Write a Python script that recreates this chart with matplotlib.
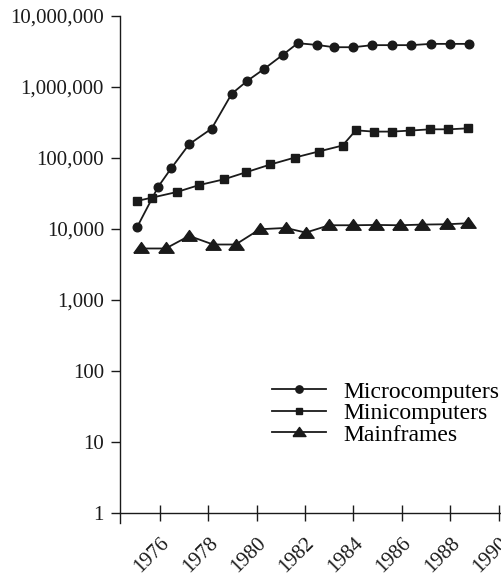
import numpy as np
import matplotlib
matplotlib.use("Agg")
from matplotlib import pyplot as plt
from matplotlib.ticker import FuncFormatter, NullLocator, FixedLocator

# values (years are approximate positions along the axis)
micro_years = [1975.05, 1975.93, 1976.47, 1977.21, 1978.14, 1978.97, 1979.62, 1980.3,
               1981.08, 1981.7, 1982.48, 1983.2, 1984.0, 1984.78, 1985.6, 1986.39,
               1987.2, 1987.99, 1988.79]
micro_units = [10500, 39300, 71600, 155500, 258000, 798000, 1216000, 1772000,
               2812000, 4100000, 3880000, 3600000, 3600000, 3850000, 3850000, 3850000,
               4010000, 4010000, 4010000]

mini_years = [1975.04, 1975.66, 1976.69, 1977.62, 1978.64, 1979.58, 1980.57, 1981.58,
              1982.56, 1983.55, 1984.1, 1984.84, 1985.59, 1986.36, 1987.16, 1987.93,
              1988.73]
mini_units = [24700, 27500, 33000, 41400, 49800, 63000, 80700, 101000,
              122800, 149000, 244000, 234000, 234000, 242000, 252000, 252000,
              260000]

main_years = [1975.2, 1976.24, 1977.21, 1978.2, 1979.13, 1980.13, 1981.2, 1982.03,
              1983.0, 1983.99, 1984.93, 1985.92, 1986.83, 1987.87, 1988.75]
main_units = [5310, 5310, 7980, 6040, 6040, 9900, 10330, 8890,
              11270, 11270, 11380, 11270, 11510, 11640, 12020]

series_names = ["Microcomputers", "Minicomputers", "Mainframes"]
x_ticks = [1976, 1978, 1980, 1982, 1984, 1986, 1988, 1990]
y_ticks = [1, 10, 100, 1000, 10000, 100000, 1000000, 10000000]

plt.rcParams['font.family'] = ['Liberation Serif', 'DejaVu Serif']
ink = '#1a1a1a'

fig = plt.figure(figsize=(5.01, 5.74), dpi=100)
ax = fig.add_axes([0.2395, 0.0889, 0.7585, 0.8838])

# flat triangle marker like the original
tri = [(-1, -0.62), (1, -0.62), (0, 0.78), (-1, -0.62)]

ax.plot(micro_years, micro_units, color=ink, lw=1.3, marker='o', ms=6.2,
        label=series_names[0])
ax.plot(mini_years, mini_units, color=ink, lw=1.3, marker='s', ms=5.4,
        label=series_names[1])
ax.plot(main_years, main_units, color=ink, lw=1.3, marker=tri, ms=11,
        label=series_names[2])

ax.set_yscale('log')
ax.set_xlim(1974.35, 1990.06)
ax.set_ylim(10 ** -0.136, 10 ** 7)

for s in ['top', 'right']:
    ax.spines[s].set_visible(False)
ax.spines['bottom'].set_position(('data', 1))
for s in ['left', 'bottom']:
    ax.spines[s].set_color(ink)
    ax.spines[s].set_linewidth(1.0)

ax.yaxis.set_major_locator(FixedLocator(y_ticks))
ax.yaxis.set_minor_locator(NullLocator())
ax.yaxis.set_major_formatter(FuncFormatter(lambda v, p: '{:,.0f}'.format(v)))
ax.set_xticks(x_ticks)
ax.set_xticklabels([str(y) for y in x_ticks])

ax.tick_params(axis='y', direction='out', length=6.5, width=1.0, color=ink,
               labelsize=15, pad=5, labelcolor=ink)
ax.tick_params(axis='x', direction='inout', length=11.5, width=1.0, color=ink,
               labelsize=15, pad=9, labelcolor=ink)
plt.setp(ax.get_xticklabels(), rotation=45, ha='right', va='top',
         rotation_mode='anchor')

leg = ax.legend(loc='upper left', bbox_to_anchor=(0.543, 0.336),
                bbox_transform=fig.transFigure, frameon=False, fontsize=17,
                handlelength=2.3, handletextpad=0.72, labelspacing=0.0,
                borderpad=0, borderaxespad=0, markerscale=0.85)

fig.savefig('out.png', dpi=100)
